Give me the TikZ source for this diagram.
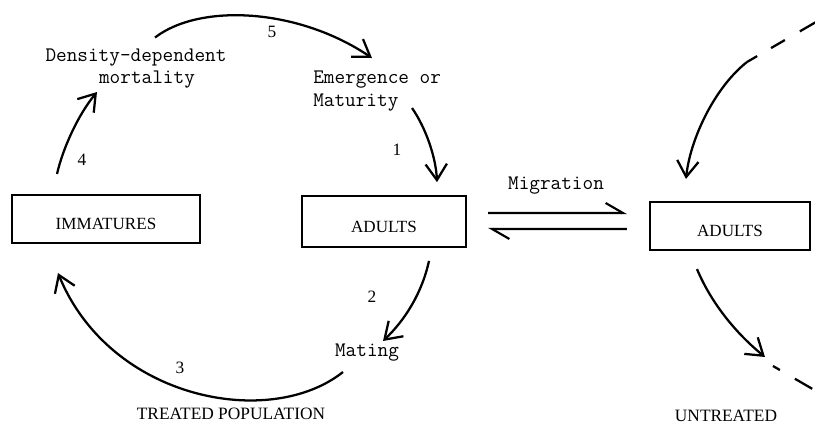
\documentclass[tikz,border=0pt]{standalone}
\usepackage{fontspec}
\usetikzlibrary{arrows.meta,calc}
\newfontfamily\capsfont{Liberation Serif}
\newcommand{\lowtext}[1]{\raisebox{-4pt}[\height][\depth]{#1}}
\begin{document}
\begin{tikzpicture}[x=0.75pt,y=-0.75pt,
  boxnode/.style={draw,line width=1.6pt,inner sep=0pt,font=\capsfont\fontsize{12.8}{14}\selectfont},
  tw/.style={font=\ttfamily\fontsize{15.5}{17}\selectfont,inner sep=0pt},
  numtext/.style={font=\capsfont\fontsize{13}{15}\selectfont,inner sep=0pt},
  captext/.style={font=\capsfont\fontsize{13}{15}\selectfont,inner sep=0pt},
  arr/.style={line width=1.7pt,-{Straight Barb[length=12pt,width=16pt,line width=1.7pt]}},
  plainline/.style={line width=1.7pt},
  harp/.style={line width=1.6pt,-{Straight Barb[harpoon,length=13pt,width=15pt,line width=1.6pt]}}]
\useasboundingbox (0,0) rectangle (815,426);

% boxes
\node[boxnode,minimum width=141pt,minimum height=36pt] (imm) at (106,219) {\lowtext{IMMATURES}};
\node[boxnode,minimum width=123pt,minimum height=38pt] (adL) at (384,221.5) {\lowtext{ADULTS}};
\node[boxnode,minimum width=120pt,minimum height=36pt] (adR) at (730,226) {\lowtext{ADULTS}};

% text labels
\node[tw,align=center] (dens) at (136,68.5) {Density-dependent\\\hspace*{16.5pt}mortality};
\node[tw,align=left,anchor=west] (emerg) at (313,91) {Emergence or\\Maturity};
\node[tw] (mating) at (367,353) {Mating};
\node[tw] (migr) at (556,186) {Migration};
\node[captext] (treated) at (231,414) {TREATED POPULATION};
\node[captext] (untreated) at (726,416) {UNTREATED};

% numbers
\node[numtext] (n5) at (272,32) {5};
\node[numtext] (n1) at (397,150) {1};
\node[numtext] (n4) at (82,160) {4};
\node[numtext] (n2) at (372,297) {2};
\node[numtext] (n3) at (180,368) {3};

% cycle arrows
\draw[arr] ($(dens)+(19,-31)$) .. controls (200,3) and (298,8) .. ($(emerg.west)+(59,-33)$);
\draw[arr] ($(emerg.west)+(99,17)$) .. controls (426,128) and (436,158) .. ($(adL.north)+(53,-13)$);
\draw[arr] ($(imm.north)+(-49,-20)$) .. controls (63,148) and (78,115) .. ($(dens)+(-39,23.5)$);
\draw[arr] ($(adL.south)+(45,13)$) .. controls (422,293) and (405,320) .. ($(mating)+(16,-12)$);
\draw[arr] ($(mating)+(-24,19)$) .. controls (270,430) and (110,400) .. ($(imm.south)+(-48,29)$);

% migration arrows
\draw[harp,shorten <=15.75pt,shorten >=16.5pt] ([yshift=6.4pt]adL.east) -- ([yshift=9.75pt]adR.west);
\draw[harp,shorten <=16.5pt,shorten >=15.75pt] ([yshift=-2.25pt]adR.west) -- ([yshift=-5.6pt]adL.east);

% untreated cycle
\coordinate (ut) at (816,22);
\coordinate (us) at (747,62);
\coordinate (ue) at (765,357);
\coordinate (ub) at (773,366);
\coordinate (uf) at (816,391);
\draw[plainline,dash pattern=on 14pt off 13pt on 12pt off 12pt] (ut) -- (us);
\draw[arr] (us) .. controls (714,88) and (690,140) .. ($(adR.north)+(-44,-22)$);
\draw[arr] ($(adR.south)+(-33,18)$) .. controls (712,305) and (738,335) .. (ue);
\draw[plainline,dash pattern=on 6pt off 13pt on 15pt off 20pt] (ub) -- (uf);
\end{tikzpicture}
\end{document}
